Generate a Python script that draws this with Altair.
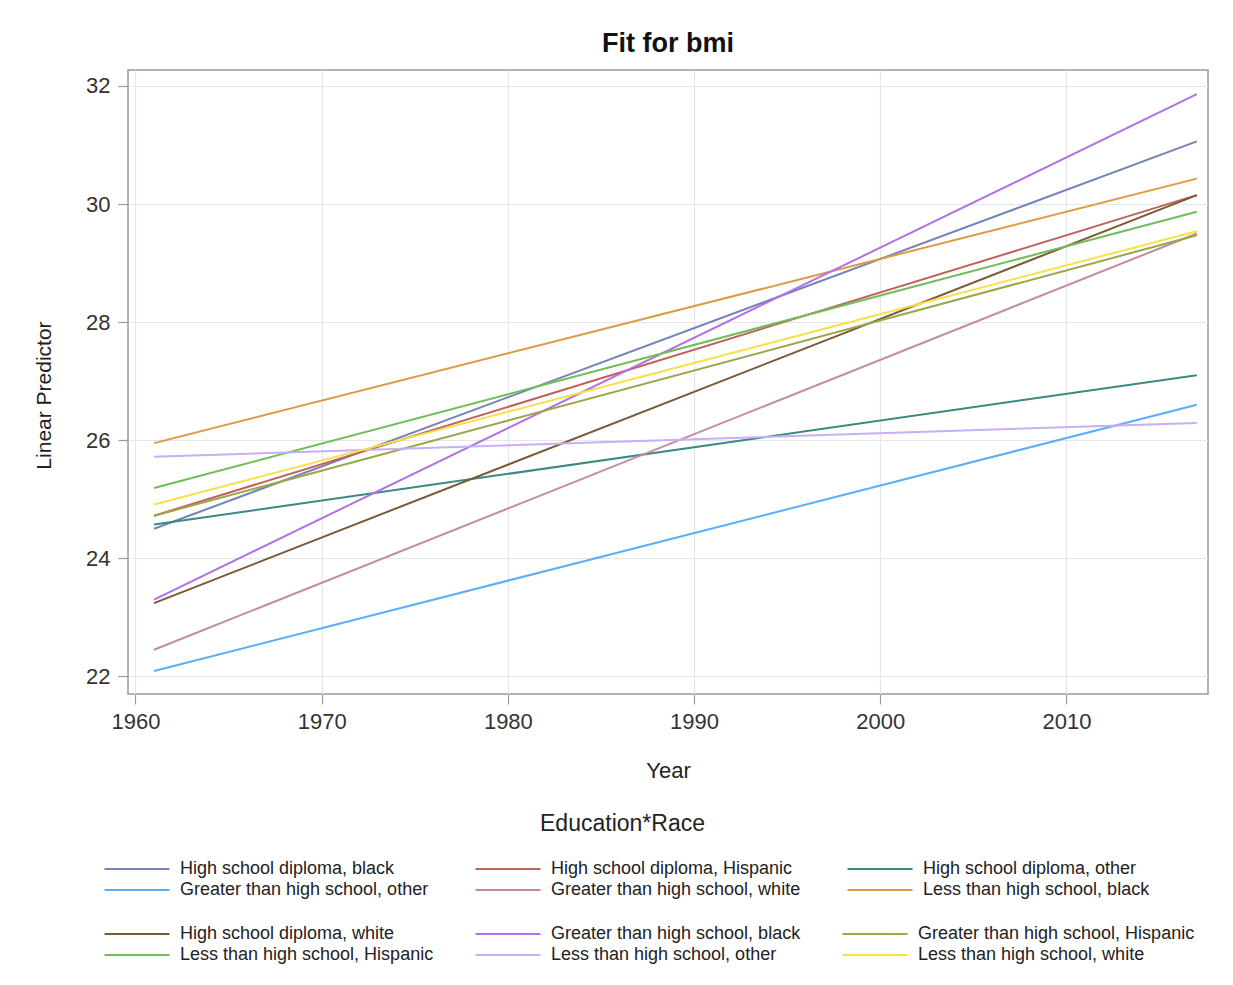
import altair as alt
import pandas as pd

# ---- data ----
years = [1961, 2017]

series_group1 = [
    "High school diploma, black",
    "High school diploma, Hispanic",
    "High school diploma, other",
    "Greater than high school, other",
    "Greater than high school, white",
    "Less than high school, black",
]
start_group1 = [24.50, 24.72, 24.57, 22.09, 22.45, 25.95]
end_group1 = [31.06, 30.15, 27.10, 26.60, 29.50, 30.43]
colors_group1 = ["#7483b8", "#c0625a", "#3a8a82", "#5aaef8", "#c48aa2", "#dd9a40"]

series_group2 = [
    "High school diploma, white",
    "Greater than high school, black",
    "Greater than high school, Hispanic",
    "Less than high school, Hispanic",
    "Less than high school, other",
    "Less than high school, white",
]
start_group2 = [23.24, 23.30, 24.72, 25.19, 25.72, 24.91]
end_group2 = [30.15, 31.86, 29.47, 29.87, 26.29, 29.54]
colors_group2 = ["#7a5a35", "#b070e6", "#9aa64a", "#70bc5a", "#c7aef6", "#f8e04a"]

x_ticks = [1960, 1970, 1980, 1990, 2000, 2010]
y_ticks = [22, 24, 26, 28, 30, 32]

rows = []
for grp, names, starts, ends in [
    (1, series_group1, start_group1, end_group1),
    (2, series_group2, start_group2, end_group2),
]:
    for n, s, e in zip(names, starts, ends):
        rows.append({"series": n, "year": years[0], "value": s, "group": grp})
        rows.append({"series": n, "year": years[1], "value": e, "group": grp})
df = pd.DataFrame(rows)

FONT = "Arial"

x_enc = alt.X(
    "year:Q",
    scale=alt.Scale(domain=[1959.6, 2017.6], nice=False, zero=False),
    axis=alt.Axis(values=x_ticks, format="d", title="Year", labelPadding=7, titlePadding=28),
)
y_enc = alt.Y(
    "value:Q",
    scale=alt.Scale(domain=[21.7, 32.27], nice=False, zero=False),
    axis=alt.Axis(values=y_ticks, title="Linear Predictor", labelPadding=8, titlePadding=31,
                  titleFontSize=21, titleY=325),
)

legend_common = dict(
    orient="none",
    direction="horizontal",
    columns=3,
    labelFont=FONT,
    labelFontSize=18,
    labelColor="#222222",
    labelLimit=400,
    symbolType="M0,0H10",
    symbolSize=169,
    symbolStrokeWidth=2,
    labelOffset=66.5,
    rowPadding=3,
    padding=0,
)

base = alt.Chart(df)

layer1 = base.transform_filter(
    alt.FieldOneOfPredicate(field="group", oneOf=[1])
).mark_line(strokeWidth=2).encode(
    x=x_enc,
    y=y_enc,
    color=alt.Color(
        "series:N",
        sort=series_group1,
        scale=alt.Scale(domain=series_group1, range=colors_group1),
        legend=alt.Legend(
            title="Education*Race",
            titleFont=FONT,
            titleFontSize=23,
            titleFontWeight="normal",
            titleColor="#222222",
            titleAnchor="middle",
            titlePadding=24,
            titleLimit=500,
            legendX=-32.5,
            legendY=743,
            columnPadding=38,
            **legend_common,
        ),
    ),
)

layer2 = base.transform_filter(
    alt.FieldOneOfPredicate(field="group", oneOf=[2])
).mark_line(strokeWidth=2).encode(
    x=x_enc,
    y=y_enc,
    stroke=alt.Stroke(
        "series:N",
        sort=series_group2,
        scale=alt.Scale(domain=series_group2, range=colors_group2),
        legend=alt.Legend(
            title=None,
            legendX=-32.5,
            legendY=855,
            columnPadding=33,
            **legend_common,
        ),
    ),
)

chart = alt.layer(layer1, layer2).properties(
    width=1080,
    height=624,
    title=alt.TitleParams("Fit for bmi", font=FONT, fontSize=27, fontWeight="bold",
                          color="#111111", anchor="middle", offset=12),
    autosize=alt.AutoSizeParams(type="none"),
    padding={"left": 120, "top": 62, "right": 17, "bottom": 283},
).configure_view(
    stroke="#9a9a9a", strokeWidth=1.5
).configure_axis(
    grid=True,
    gridColor="#e6e6e6",
    gridWidth=1.2,
    domain=False,
    tickColor="#9a9a9a",
    tickSize=10,
    tickWidth=1.2,
    labelFont=FONT,
    labelFontSize=22,
    labelColor="#333333",
    titleFont=FONT,
    titleFontSize=22,
    titleFontWeight="normal",
    titleColor="#222222",
)

chart.save("out.html", embed_options={"renderer": "svg", "actions": False})
